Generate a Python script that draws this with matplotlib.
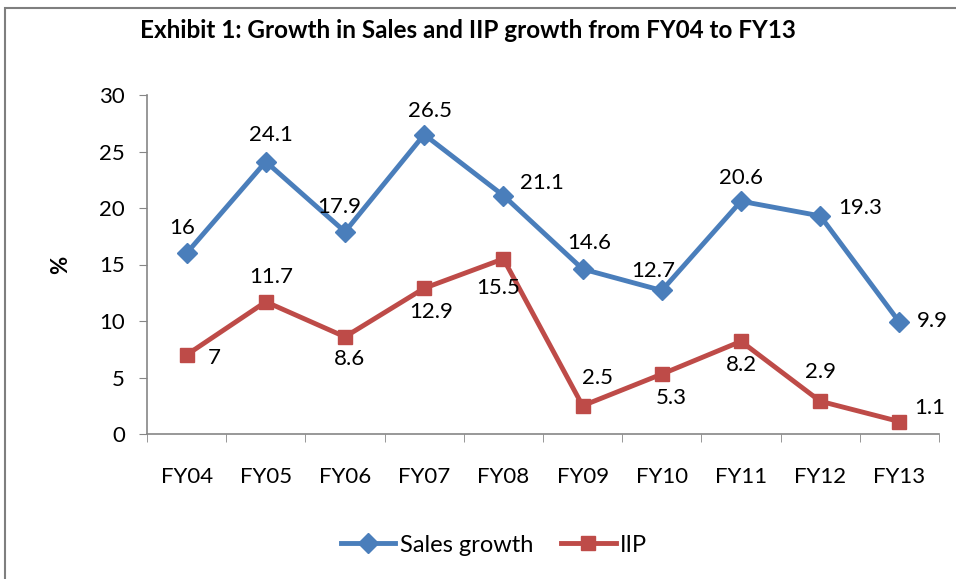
import matplotlib
matplotlib.use("Agg")
import matplotlib.pyplot as plt
from matplotlib.patches import Rectangle

categories = ["FY04", "FY05", "FY06", "FY07", "FY08", "FY09", "FY10", "FY11", "FY12", "FY13"]
sales_growth = [16, 24.1, 17.9, 26.5, 21.1, 14.6, 12.7, 20.6, 19.3, 9.9]
iip = [7, 11.7, 8.6, 12.9, 15.5, 2.5, 5.3, 8.2, 2.9, 1.1]

# label offsets in points (dx, dy)
sales_off = [(-3, 18), (4, 19), (-4, 18), (4, 17), (28, 9), (5, 19), (-6, 14), (0, 17), (29, 6), (24, 1)]
iip_off = [(20, -2), (4, 18), (3, -16), (5, -17), (-4, -21), (11, 20), (7, -17), (0, -17), (0, 21), (22, 10)]

plt.rcParams['font.family'] = ['Lato', 'DejaVu Sans']
FS = 16

fig = plt.figure(figsize=(9.56, 5.79), dpi=100)
fig.patches.append(Rectangle((5/956, -0.1), 1.2, 1 - 8/579 + 0.1, transform=fig.transFigure,
                             fill=False, edgecolor='#7f7f7f', linewidth=1.5))
ax = fig.add_axes([147/956, 1 - 434/579, (939 - 147)/956, (434 - 95)/579])

x = list(range(len(categories)))
blue = '#4a7ebb'
red = '#be4b48'
ax.plot(x, sales_growth, color=blue, lw=3.5, marker='D', ms=10, label='Sales growth', zorder=3)
ax.plot(x, iip, color=red, lw=3.5, marker='s', ms=10, label='IIP', zorder=3)

for xi, v, o in zip(x, sales_growth, sales_off):
    ax.annotate(f"{v:g}", (xi, v), xytext=o, textcoords='offset points',
                ha='center', va='center', fontsize=FS)
for xi, v, o in zip(x, iip, iip_off):
    ax.annotate(f"{v:g}", (xi, v), xytext=o, textcoords='offset points',
                ha='center', va='center', fontsize=FS)

ax.set_xlim(-0.5, len(categories) - 0.5)
ax.set_ylim(0, 30)
ax.set_yticks(range(0, 31, 5))
ax.set_xticks(x)
ax.set_xticklabels(categories)
ax.set_xticks([i - 0.5 for i in range(len(categories) + 1)], minor=True)
ax.tick_params(axis='x', which='major', length=0, pad=24, labelsize=FS)
ax.tick_params(axis='x', which='minor', length=6, color='#868686', direction='out')
ax.tick_params(axis='y', length=6, color='#868686', labelsize=FS, pad=10)
for s in ['top', 'right']:
    ax.spines[s].set_visible(False)
for s in ['left', 'bottom']:
    ax.spines[s].set_color('#868686')
    ax.spines[s].set_linewidth(1.2)
ax.set_ylabel('%', fontsize=FS, fontweight='bold', labelpad=20)

fig.text(468/956, 1 - 31/579, 'Exhibit 1: Growth in Sales and IIP growth from FY04 to FY13',
         ha='center', va='center', fontsize=17.5, fontweight='bold')

fig.legend(loc='center', bbox_to_anchor=(494/956, 1 - 545/579), ncol=2, frameon=False,
           fontsize=17, handlelength=2.3, columnspacing=1.2, handletextpad=0.2)

fig.savefig('out.png', dpi=100)
